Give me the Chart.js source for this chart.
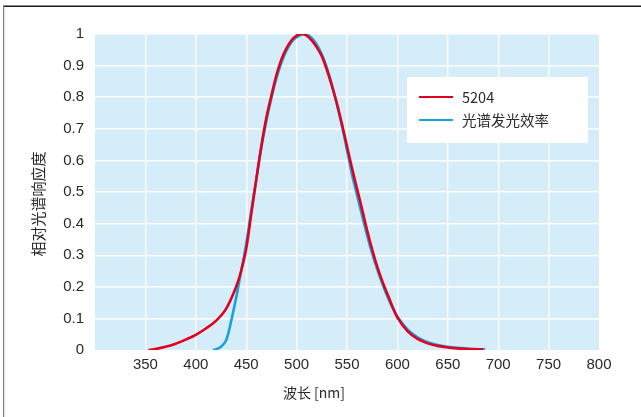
<!DOCTYPE html>
<html>
<head>
<meta charset="utf-8">
<script src="https://cdn.jsdelivr.net/npm/chart.js@4.4.1/dist/chart.umd.min.js"></script>
<style>
html,body{margin:0;padding:0;background:#fff;}
canvas{display:block;}
</style>
</head>
<body>
<canvas id="c" width="641" height="417"></canvas>
<script>
// ---- data ----
const seriesNames = ['5204', '光谱发光效率'];
const redX = [353,360,370,380,390,400,410,420,430,440,445,450,455,460,465,470,475,480,485,490,495,500,505,510,515,520,525,530,535,540,545,550,555,560,565,570,575,580,585,590,595,600,610,620,630,640,650,660,670,685];
const redY = [0,0.003,0.01,0.02,0.033,0.048,0.068,0.092,0.13,0.2,0.25,0.32,0.43,0.54,0.645,0.735,0.805,0.87,0.92,0.955,0.98,0.995,1.0,0.995,0.98,0.958,0.93,0.887,0.837,0.78,0.715,0.645,0.575,0.51,0.445,0.378,0.318,0.264,0.218,0.178,0.138,0.103,0.06,0.035,0.021,0.013,0.008,0.005,0.003,0.002];
const blueX = [417,420,425,430,435,440,445,450,455,460,465,470,475,480,485,490,495,500,507,512,517,522,527,532,537,542,547,550,555,560,565,570,575,580,585,590,595,600,610,620,630,640,650,660,670,687];
const blueY = [0,0.002,0.01,0.03,0.09,0.165,0.25,0.335,0.44,0.54,0.64,0.725,0.797,0.86,0.91,0.948,0.975,0.99,1.0,0.995,0.98,0.955,0.92,0.873,0.815,0.75,0.68,0.632,0.555,0.49,0.425,0.362,0.305,0.255,0.21,0.17,0.135,0.105,0.065,0.04,0.025,0.016,0.01,0.007,0.004,0.002];
const xTicks = [300,350,400,450,500,550,600,650,700,750,800];
const xTickLabels = ['','350','400','450','500','550','600','650','700','750','800'];
const yTicks = [0,0.1,0.2,0.3,0.4,0.5,0.6,0.7,0.8,0.9,1];
const yTickLabels = ['0','0.1','0.2','0.3','0.4','0.5','0.6','0.7','0.8','0.9','1'];
const xTitle = '波长 [nm]';
const yTitle = '相对光谱响应度';

const RED = '#e3001f';
const BLUE = '#17a1de';
const PLOT_BG = '#d5ecf9';
const CJK = '"Noto Sans CJK SC", "Liberation Sans", sans-serif';
const LAT = '"Liberation Sans", Arial, sans-serif';

function pts(xs, ys){ return xs.map((x,i)=>({x:x, y:ys[i]})); }

const decor = {
  id:'decor',
  beforeDraw(chart){
    const ctx = chart.ctx, a = chart.chartArea;
    ctx.save();
    ctx.fillStyle = PLOT_BG;
    ctx.fillRect(a.left, a.top, a.right-a.left, a.bottom-a.top);
    // frame
    ctx.strokeStyle = '#1e1a18';
    ctx.lineWidth = 1.4;
    ctx.beginPath(); ctx.moveTo(3, 6.3); ctx.lineTo(641, 6.3); ctx.stroke();
    ctx.strokeStyle = '#7a7a7a';
    ctx.lineWidth = 1.2;
    ctx.beginPath(); ctx.moveTo(3.6, 6); ctx.lineTo(3.6, 417); ctx.stroke();
    ctx.restore();
  },
  afterDraw(chart){
    const ctx = chart.ctx, a = chart.chartArea;
    ctx.save();
    // axis titles
    ctx.fillStyle = '#2a2a2a';
    ctx.font = '14px ' + CJK;
    ctx.textAlign = 'center';
    ctx.textBaseline = 'middle';
    ctx.fillText(xTitle, 314, 393);
    ctx.translate(38, 204);
    ctx.rotate(-Math.PI/2);
    ctx.font = '15px ' + CJK;
    ctx.fillText(yTitle, 0, 0);
    ctx.restore();
    // legend box
    ctx.save();
    const lx = a.left + 312, ly = a.top + 43;
    ctx.fillStyle = '#ffffff';
    ctx.fillRect(lx, ly, 181, 66);
    chart.data.datasets.forEach((ds, i) => {
      const y = ly + 20 + i*23;
      ctx.strokeStyle = ds.borderColor;
      ctx.lineWidth = 2.2;
      ctx.beginPath(); ctx.moveTo(lx+12, y); ctx.lineTo(lx+46, y); ctx.stroke();
      ctx.fillStyle = '#2a2a2a';
      ctx.font = '14.5px ' + CJK;
      ctx.textAlign = 'left';
      ctx.textBaseline = 'middle';
      ctx.fillText(ds.label, lx+55, y+0.5);
    });
    ctx.restore();
  }
};

new Chart(document.getElementById('c'), {
  type: 'line',
  data: {
    datasets: [
      {label: seriesNames[0], data: pts(redX, redY), borderColor: RED, borderWidth: 2.6, pointRadius: 0, tension: 0.35, fill: false},
      {label: seriesNames[1], data: pts(blueX, blueY), borderColor: BLUE, borderWidth: 2.6, pointRadius: 0, tension: 0.35, fill: false}
    ]
  },
  options: {
    responsive: false,
    animation: false,
    events: [],
    layout: {padding: {left: 0, top: 34, right: 42, bottom: 0}},
    plugins: {legend: {display: false}, tooltip: {enabled: false}, title: {display: false}},
    scales: {
      x: {
        type: 'linear', min: 300, max: 800,
        afterBuildTicks(s){ s.ticks = xTicks.map(v=>({value:v})); },
        afterFit(s){ s.height = 67; },
        ticks: {
          callback(v){ const i = xTicks.indexOf(v); return i >= 0 ? xTickLabels[i] : ''; },
          font: {family: LAT, size: 15}, color: '#2a2a2a', padding: 6, maxRotation: 0, autoSkip: false
        },
        grid: {
          color(c){ const v = c.tick && c.tick.value; return (v === 300 || v === 800) ? 'rgba(0,0,0,0)' : '#ffffff'; },
          lineWidth: 1.4, drawTicks: false
        },
        border: {display: false}
      },
      y: {
        type: 'linear', min: 0, max: 1,
        afterBuildTicks(s){ s.ticks = yTicks.map(v=>({value:v})); },
        afterFit(s){ s.width = 95; },
        ticks: {
          callback(v){ const i = yTicks.findIndex(t=>Math.abs(t-v)<1e-9); return i >= 0 ? yTickLabels[i] : ''; },
          font: {family: LAT, size: 15}, color: '#2a2a2a', padding: 11, autoSkip: false
        },
        grid: {
          color(c){ const v = c.tick && c.tick.value; return (v === 0) ? 'rgba(0,0,0,0)' : '#ffffff'; },
          lineWidth: 1.4, drawTicks: false
        },
        border: {display: false}
      }
    }
  },
  plugins: [decor]
});
</script>
</body>
</html>
